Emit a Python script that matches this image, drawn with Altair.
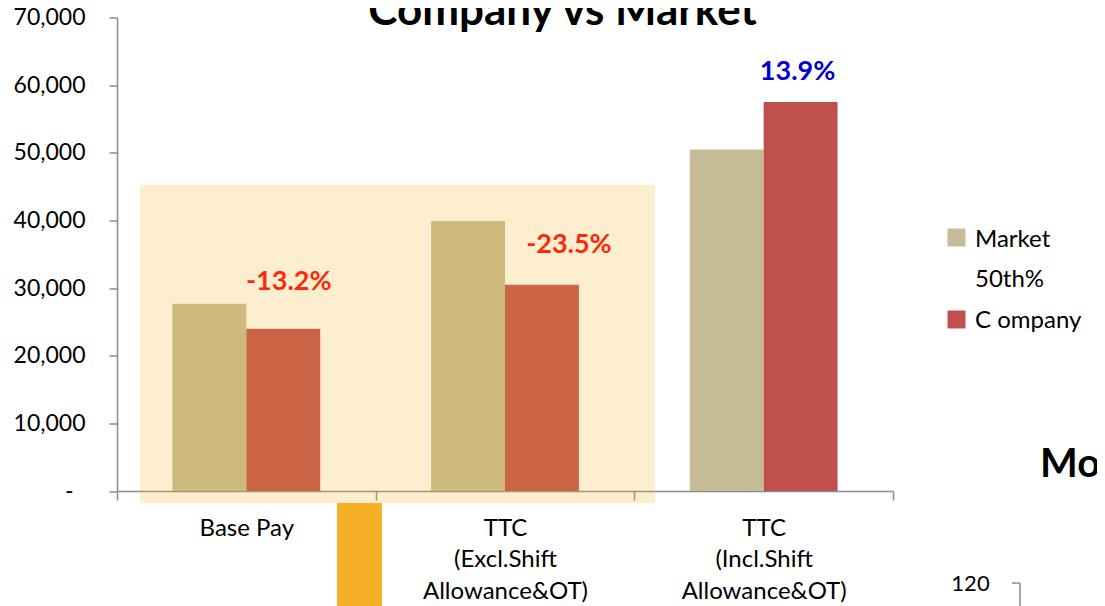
import altair as alt
import pandas as pd

# ---- data ----
categories = ["Base Pay", "TTC\n(Excl.Shift\nAllowance&OT)", "TTC\n(Incl.Shift\nAllowance&OT)"]
series_names = ["Market 50th%", "C company"]
market_values = [27700, 39900, 50500]
company_values = [24000, 30500, 57500]
gap_pct = [-13.2, -23.5, 13.9]
series_colors = ["#C4BD97", "#C0504D"]
y_ticks = [0, 10000, 20000, 30000, 40000, 50000, 60000, 70000]

FONT = "Lato"
AX = "#8C8C8C"
W, H = 776, 473.5

rows = []
for c, m, v in zip(categories, market_values, company_values):
    rows.append({"category": c, "series": series_names[0], "value": m})
    rows.append({"category": c, "series": series_names[1], "value": v})
bars_df = pd.DataFrame(rows)

labels_df = pd.DataFrame({
    "category": categories,
    "series": [series_names[1]] * 3,
    "value": company_values,
    "gap": gap_pct,
})
labels_df["text"] = labels_df["gap"].map(lambda g: f"{g:.1f}%")

x_enc = alt.X(
    "category:N",
    sort=categories,
    scale=alt.Scale(paddingInner=0, paddingOuter=0),
    axis=alt.Axis(
        title=None, labelAngle=0, labelFont=FONT, labelFontSize=24, labelColor="#000000",
        labelExpr="split(datum.label, '\\n')", labelLineHeight=31.5, labelPadding=16,
        tickBand="extent", tickSize=9, tickColor=AX, tickWidth=1.5,
        domainColor=AX, domainWidth=1.5, labelLimit=400,
    ),
)
xoff_enc = alt.XOffset(
    "series:N", sort=series_names,
    scale=alt.Scale(domain=series_names, paddingOuter=0.75, paddingInner=0),
)
y_enc = alt.Y(
    "value:Q",
    scale=alt.Scale(domain=[0, 70000], nice=False),
    axis=alt.Axis(
        title=None, values=y_ticks, grid=False, labelFont=FONT, labelFontSize=23,
        labelColor="#000000", tickSize=8, tickColor=AX, tickWidth=1.5,
        domainColor=AX, domainWidth=1.5,
        labelPadding={"condition": {"test": "datum.value == 0", "value": 36}, "value": 24},
        labelExpr="datum.value == 0 ? '-' : format(datum.value, ',')",
    ),
)

bars = alt.Chart(bars_df).mark_bar(opacity=1).encode(
    x=x_enc,
    xOffset=xoff_enc,
    y=y_enc,
    color=alt.Color("series:N", scale=alt.Scale(domain=series_names, range=series_colors), legend=None),
)

# gap labels above the company bars, each nudged as placed on the slide
label_nudges = [(5.5, -38.5), (27, -31.5), (-3, -22)]
label_layers = []
for cat, (ndx, ndy) in zip(categories, label_nudges):
    label_layers.append(
        alt.Chart(labels_df).transform_filter(alt.datum.category == cat).mark_text(
            font=FONT, fontSize=27, fontWeight="bold", baseline="alphabetic", dx=ndx, dy=ndy,
        ).encode(
            x=alt.X("category:N", sort=categories),
            xOffset=alt.XOffset("series:N", sort=series_names),
            y=alt.Y("value:Q"),
            text="text:N",
            color=alt.condition(alt.datum.gap < 0, alt.value("#FF0000"), alt.value("#0000CC")),
        )
    )

one = pd.DataFrame({"k": [0]})

# translucent highlight panel over the first two groups
overlay = alt.Chart(one).mark_rect(color="#F5B027", opacity=0.22).encode(
    x=alt.value(23), x2=alt.value(538), y=alt.value(167.5), y2=alt.value(485.5)
)
# orange block below the axis
block = alt.Chart(one).mark_rect(color="#F5B027", opacity=1).encode(
    x=alt.value(220), x2=alt.value(265), y=alt.value(485.5), y2=alt.value(600)
)


def text_at(t, x, y, size, weight="normal", align="left", color="#000000"):
    return alt.Chart(pd.DataFrame({"t": [t]})).mark_text(
        font=FONT, fontSize=size, fontWeight=weight, align=align, baseline="alphabetic", color=color
    ).encode(x=alt.value(x), y=alt.value(y), text="t:N")


title = text_at("Company vs Market", 445.5, 7.5, 44, weight="bold", align="center")
mo = text_at("Mo", 923, 459.5, 40, weight="bold")
num120 = text_at("120", 853.5, 573.5, 22, align="center")

bracket_h = alt.Chart(one).mark_rule(color=AX, strokeWidth=1.5).encode(
    x=alt.value(895), x2=alt.value(903), y=alt.value(565.5)
)
bracket_v = alt.Chart(one).mark_rule(color=AX, strokeWidth=1.5).encode(
    x=alt.value(903), y=alt.value(565.5), y2=alt.value(600)
)

# legend
leg_sq1 = alt.Chart(one).mark_square(size=324, opacity=1, color=series_colors[0]).encode(
    x=alt.value(839.5), y=alt.value(220)
)
leg_sq2 = alt.Chart(one).mark_square(size=324, opacity=1, color=series_colors[1]).encode(
    x=alt.value(839.5), y=alt.value(302)
)
leg_t1 = text_at("Market", 858, 229.5, 24)
leg_t2 = text_at("50th%", 858, 269.5, 24)
leg_t3 = text_at("C ompany", 858, 310.5, 24)

chart = alt.layer(
    bars, *label_layers, overlay, block, title, mo, num120, bracket_h, bracket_v,
    leg_sq1, leg_sq2, leg_t1, leg_t2, leg_t3,
).properties(
    width=W, height=H,
    autosize=alt.AutoSizeParams(type="none"),
    padding={"left": 109, "top": 9.5, "right": 204, "bottom": 115},
    background="#FFFFFF",
).configure_view(strokeWidth=0)

chart.save("out.html", embed_options={"renderer": "svg", "actions": False})
